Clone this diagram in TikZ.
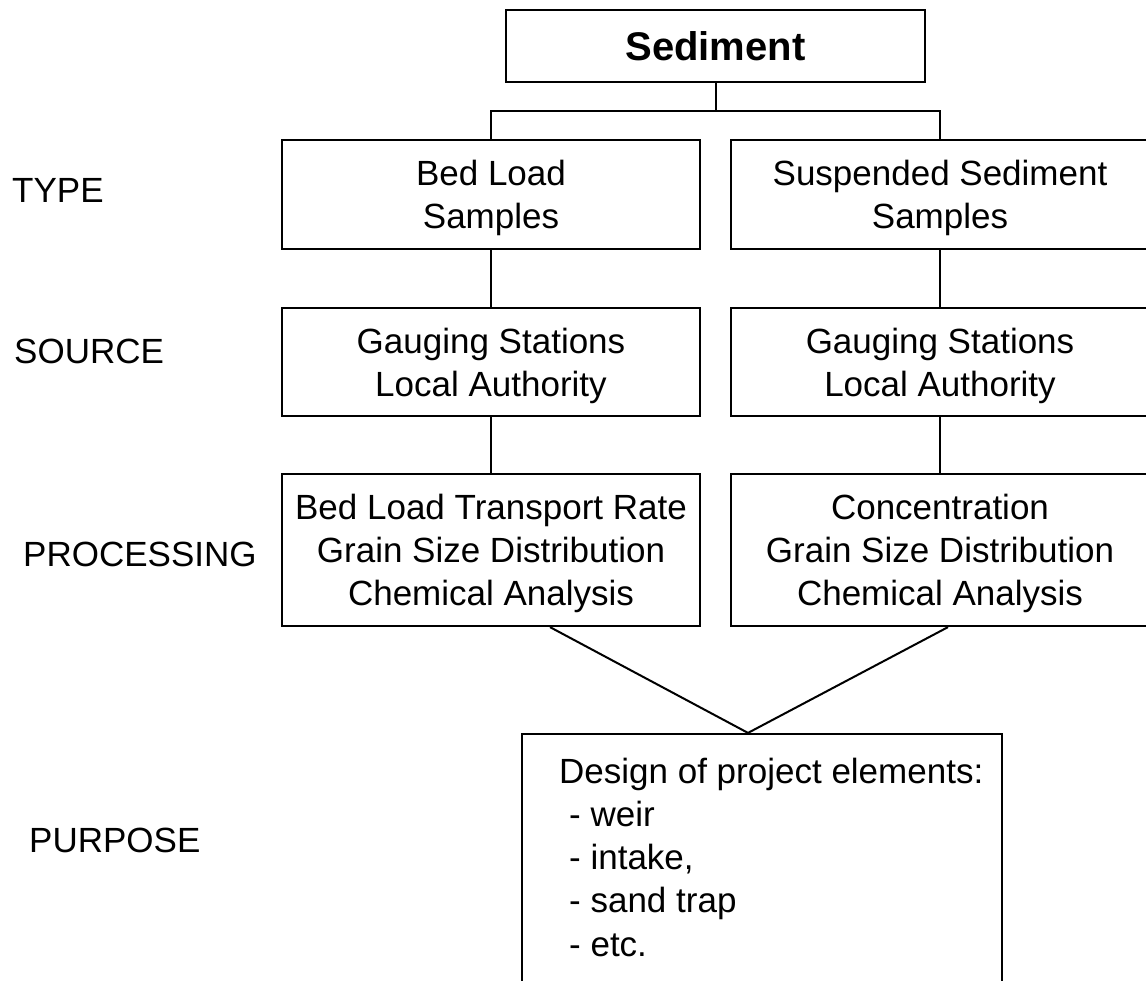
\documentclass[tikz,border=0pt]{standalone}
\usepackage{fontspec}
\setmainfont{Liberation Sans}
\begin{document}
\begin{tikzpicture}[x=1pt,y=-1pt,
  box/.style={draw,line width=2.2pt,inner sep=0pt,align=center,text depth=0pt,font=\fontsize{35}{43.3}\selectfont},
  lbl/.style={anchor=base west,inner sep=0pt,font=\fontsize{35}{43.3}\selectfont},
  conn/.style={line width=2pt}]
\useasboundingbox (0,0) rectangle (1146,980);
\clip (0,0) rectangle (1146,980);
% boxes
\node[box,minimum width=419pt,minimum height=72pt,font=\fontsize{40}{48}\selectfont\bfseries] (sed) at (715.5,46) {Sediment};
\node[box,minimum width=418pt,minimum height=109pt] (bl) at (491,194.5) {Bed Load\\Samples};
\node[box,minimum width=418pt,minimum height=109pt] (ss) at (940,194.5) {Suspended Sediment\\Samples};
\node[box,minimum width=418pt,minimum height=108pt] (gl) at (491,362) {Gauging Stations\\Local Authority};
\node[box,minimum width=418pt,minimum height=108pt] (gr) at (940,362) {Gauging Stations\\Local Authority};
\node[box,minimum width=418pt,minimum height=152pt] (pl) at (491,550) {Bed Load Transport Rate\\Grain Size Distribution\\Chemical Analysis};
\node[box,minimum width=418pt,minimum height=152pt] (pr) at (940,550) {Concentration\\Grain Size Distribution\\Chemical Analysis};
\node[box,minimum width=480pt,minimum height=300pt] (pu) at (762,884) {};
\node[lbl,align=left,anchor=north west] (put) at (559,757.5) {Design of project elements:\\\hspace*{10pt}- weir\\\hspace*{10pt}- intake,\\\hspace*{10pt}- sand trap\\\hspace*{10pt}- etc.};
% row labels
\node[lbl] (ltype) at (12,202) {TYPE};
\node[lbl] (lsource) at (14,363) {SOURCE};
\node[lbl] (lproc) at (23,566) {PROCESSING};
\node[lbl] (lpurp) at (29,852) {PURPOSE};
% connectors
\coordinate (bar) at (715.5,111);
\draw[conn] (sed.south) -- (bar);
\draw[conn] (bl.north) |- (bar) -| (ss.north);
\draw[conn] (bl.south) -- (gl.north);
\draw[conn] (ss.south) -- (gr.north);
\draw[conn] (gl.south) -- (pl.north);
\draw[conn] (gr.south) -- (pr.north);
\coordinate (xl) at (550,0);
\coordinate (xr) at (948,0);
\coordinate (xa) at (748,0);
\draw[conn] (pl.south -| xl) -- (pu.north -| xa) -- (pr.south -| xr);
\end{tikzpicture}
\end{document}
